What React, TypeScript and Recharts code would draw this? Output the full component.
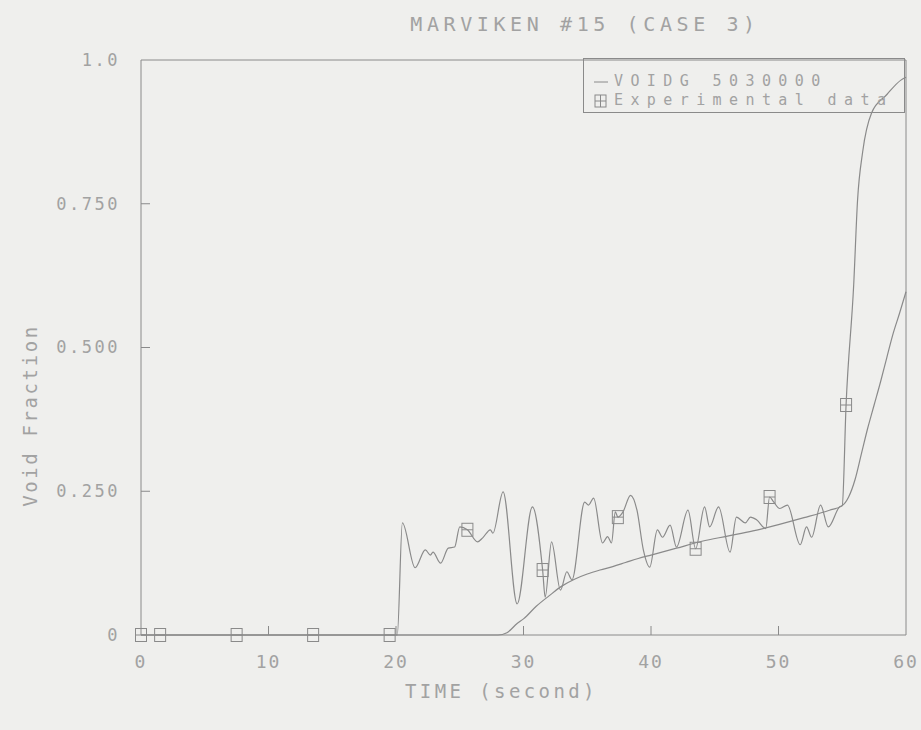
import { ComposedChart, Line, Scatter, XAxis, YAxis, Legend, ReferenceLine } from 'recharts';

// Measured void fraction (oscillating trace)
const expTime = [
  0, 20.1, 20.5, 21.5, 22.3, 22.7, 22.9, 23.5, 24.1, 24.6, 25.0, 25.6, 26.4, 26.8, 27.4, 27.6,
  28.4, 29.5, 30.7, 31.5, 31.7, 32.2, 32.9, 33.4, 33.8, 34.8, 35.1, 35.5, 36.2, 36.6, 36.9,
  37.2, 37.4, 37.8, 38.4, 38.9, 39.4, 39.9, 40.5, 40.9, 41.5, 42.0, 42.9, 43.5, 44.2, 44.6,
  45.3, 46.2, 46.7, 47.4, 47.8, 48.3, 49.0, 49.3, 49.6, 50.1, 50.7, 51.7, 52.2, 52.6, 53.3,
  53.9, 54.8, 55.0, 55.3, 55.9, 56.2, 56.6, 57.3, 58.5, 59.6, 60,
];
const expVoid = [
  0, 0, 0.195, 0.117, 0.148, 0.139, 0.144, 0.125, 0.151, 0.153, 0.188, 0.183, 0.162, 0.169, 0.183, 0.177,
  0.249, 0.054, 0.223, 0.113, 0.066, 0.162, 0.078, 0.11, 0.096, 0.231, 0.226, 0.238, 0.16, 0.171, 0.16,
  0.214, 0.205, 0.214, 0.243, 0.217, 0.148, 0.118, 0.183, 0.17, 0.191, 0.153, 0.217, 0.15, 0.223, 0.188,
  0.223, 0.144, 0.205, 0.195, 0.205, 0.2, 0.185, 0.24, 0.232, 0.22, 0.226, 0.157, 0.188, 0.17, 0.226,
  0.188, 0.223, 0.225, 0.4, 0.61, 0.756, 0.84, 0.908, 0.94, 0.965, 0.97,
];

// Calculated VOIDG 5030000
const calcTime = [
  0, 28, 28.7, 29.5, 30, 31, 32, 33, 34, 35, 36, 37, 38, 39, 40, 42, 44, 46, 48, 50, 52, 54, 55,
  55.5, 56, 56.5, 57, 57.5, 58, 58.5, 59, 59.5, 60,
];
const calcVoid = [
  0, 0, 0.004, 0.02, 0.028, 0.05, 0.068, 0.085, 0.097, 0.106, 0.113, 0.119, 0.126, 0.133, 0.139,
  0.151, 0.163, 0.172, 0.181, 0.192, 0.204, 0.217, 0.225, 0.24, 0.27, 0.315, 0.36, 0.4, 0.44, 0.483,
  0.525, 0.56, 0.597,
];

// Symbols placed on the measured trace
const markerTime = [0, 1.5, 7.5, 13.5, 19.5, 25.6, 31.5, 37.4, 43.5, 49.3, 55.3];
const markerVoid = [0, 0, 0, 0, 0, 0.183, 0.113, 0.205, 0.15, 0.24, 0.4];

const xTicks = [0, 10, 20, 30, 40, 50, 60];
const yTicks = [0, 0.25, 0.5, 0.75, 1];
const yTickLabels = ['0', '0.250', '0.500', '0.750', '1.0'];

const seriesNames = ['VOIDG 5030000', 'Experimental data'];

const lineColor = '#8a8a8a';
const textColor = '#a2a2a2';
const font = '"DejaVu Sans Mono", "Liberation Mono", monospace';

const expData = expTime.map((t, i) => ({ t, v: expVoid[i] }));
const calcData = calcTime.map((t, i) => ({ t, v: calcVoid[i] }));
const markerData = markerTime.map((t, i) => ({ t, v: markerVoid[i] }));

function XTick({ x, y, payload }: any) {
  const v = payload.value;
  return (
    <g>
      {v > 0 && v < 60 && <line x1={x} y1={y} x2={x} y2={y - 9} stroke={lineColor} />}
      <text x={x} y={y + 33} textAnchor="middle" fill={textColor} fontFamily={font} fontSize={18} letterSpacing={2}>
        {v}
      </text>
    </g>
  );
}

function YTick({ x, y, payload, index }: any) {
  const v = payload.value;
  return (
    <g>
      {v > 0 && v < 1 && <line x1={x} y1={y} x2={x + 9} y2={y} stroke={lineColor} />}
      <text x={x - 21} y={y} dy="0.35em" textAnchor="end" fill={textColor} fontFamily={font} fontSize={17} letterSpacing={2.5}>
        {yTickLabels[index]}
      </text>
    </g>
  );
}

function SquareMark({ cx, cy }: any) {
  return (
    <g stroke={lineColor} fill="none">
      <rect x={cx - 5.5} y={cy - 6.5} width={11} height={13} />
      <line x1={cx - 5.5} y1={cy} x2={cx + 5.5} y2={cy} />
    </g>
  );
}

function LegendBox() {
  const row = { display: 'flex', alignItems: 'center', height: 19, overflow: 'hidden' } as const;
  return (
    <div
      style={{
        border: `1px solid ${lineColor}`,
        width: 322,
        height: 55,
        boxSizing: 'border-box',
        padding: '13px 0 0 8px',
        fontFamily: font,
        fontSize: 15,
        letterSpacing: 7.4,
        color: textColor,
        lineHeight: '17px',
      }}
    >
      <div style={row}>
        <svg width={22} height={14}>
          <line x1={2} y1={7} x2={16} y2={7} stroke={lineColor} />
        </svg>
        <span>{seriesNames[0]}</span>
      </div>
      <div style={row}>
        <svg width={22} height={16}>
          <rect x={3} y={2} width={11} height={12} fill="none" stroke={lineColor} />
          <line x1={3} y1={8} x2={14} y2={8} stroke={lineColor} />
          <line x1={8.5} y1={2} x2={8.5} y2={14} stroke={lineColor} />
        </svg>
        <span>{seriesNames[1]}</span>
      </div>
    </div>
  );
}

export default function App() {
  return (
    <div style={{ position: 'absolute', left: 0, top: 0, width: 921, height: 730, background: '#efefed' }}>
      <div
        style={{
          position: 'absolute',
          left: 0,
          top: 12,
          width: 1170,
          textAlign: 'center',
          fontFamily: font,
          fontSize: 20,
          letterSpacing: 4.6,
          color: textColor,
        }}
      >
        MARVIKEN #15 (CASE 3)
      </div>
      <ComposedChart width={921} height={730} margin={{ top: 60, right: 15, bottom: 0, left: 0 }}>
        <XAxis
          dataKey="t"
          type="number"
          domain={[0, 60]}
          ticks={xTicks}
          interval={0}
          height={95}
          tickSize={0}
          tickMargin={0}
          tickLine={false}
          tick={<XTick />}
          axisLine={{ stroke: lineColor }}
          label={({ viewBox }: any) => (
            <text
              x={viewBox.x + viewBox.width / 2 - 22}
              y={viewBox.y + 63}
              textAnchor="middle"
              fill={textColor}
              fontFamily={font}
              fontSize={19}
              letterSpacing={3.4}
            >
              TIME (second)
            </text>
          )}
        />
        <YAxis
          dataKey="v"
          type="number"
          domain={[0, 1]}
          ticks={yTicks}
          interval={0}
          width={141}
          tickSize={0}
          tickMargin={0}
          tickLine={false}
          tick={<YTick />}
          axisLine={{ stroke: lineColor }}
          label={({ viewBox }: any) => {
            const cx = 30;
            const cy = viewBox.y + viewBox.height / 2 + 68;
            return (
              <text
                x={cx}
                y={cy}
                transform={`rotate(-90 ${cx} ${cy})`}
                textAnchor="middle"
                dominantBaseline="central"
                fill={textColor}
                fontFamily={font}
                fontSize={19}
                letterSpacing={2.6}
              >
                Void Fraction
              </text>
            );
          }}
        />
        <ReferenceLine y={1} stroke={lineColor} />
        <ReferenceLine x={60} stroke={lineColor} />
        <Line
          data={calcData}
          dataKey="v"
          type="monotone"
          stroke={lineColor}
          strokeWidth={1.2}
          dot={false}
          isAnimationActive={false}
        />
        <Line
          data={expData}
          dataKey="v"
          type="monotone"
          stroke={lineColor}
          strokeWidth={1.2}
          dot={false}
          isAnimationActive={false}
        />
        <Scatter data={markerData} dataKey="v" shape={<SquareMark />} isAnimationActive={false} />
        <Legend
          layout="horizontal"
          verticalAlign="middle"
          align="center"
          content={() => <LegendBox />}
          wrapperStyle={{ left: 583, top: 58, width: 322 }}
        />
      </ComposedChart>
    </div>
  );
}
